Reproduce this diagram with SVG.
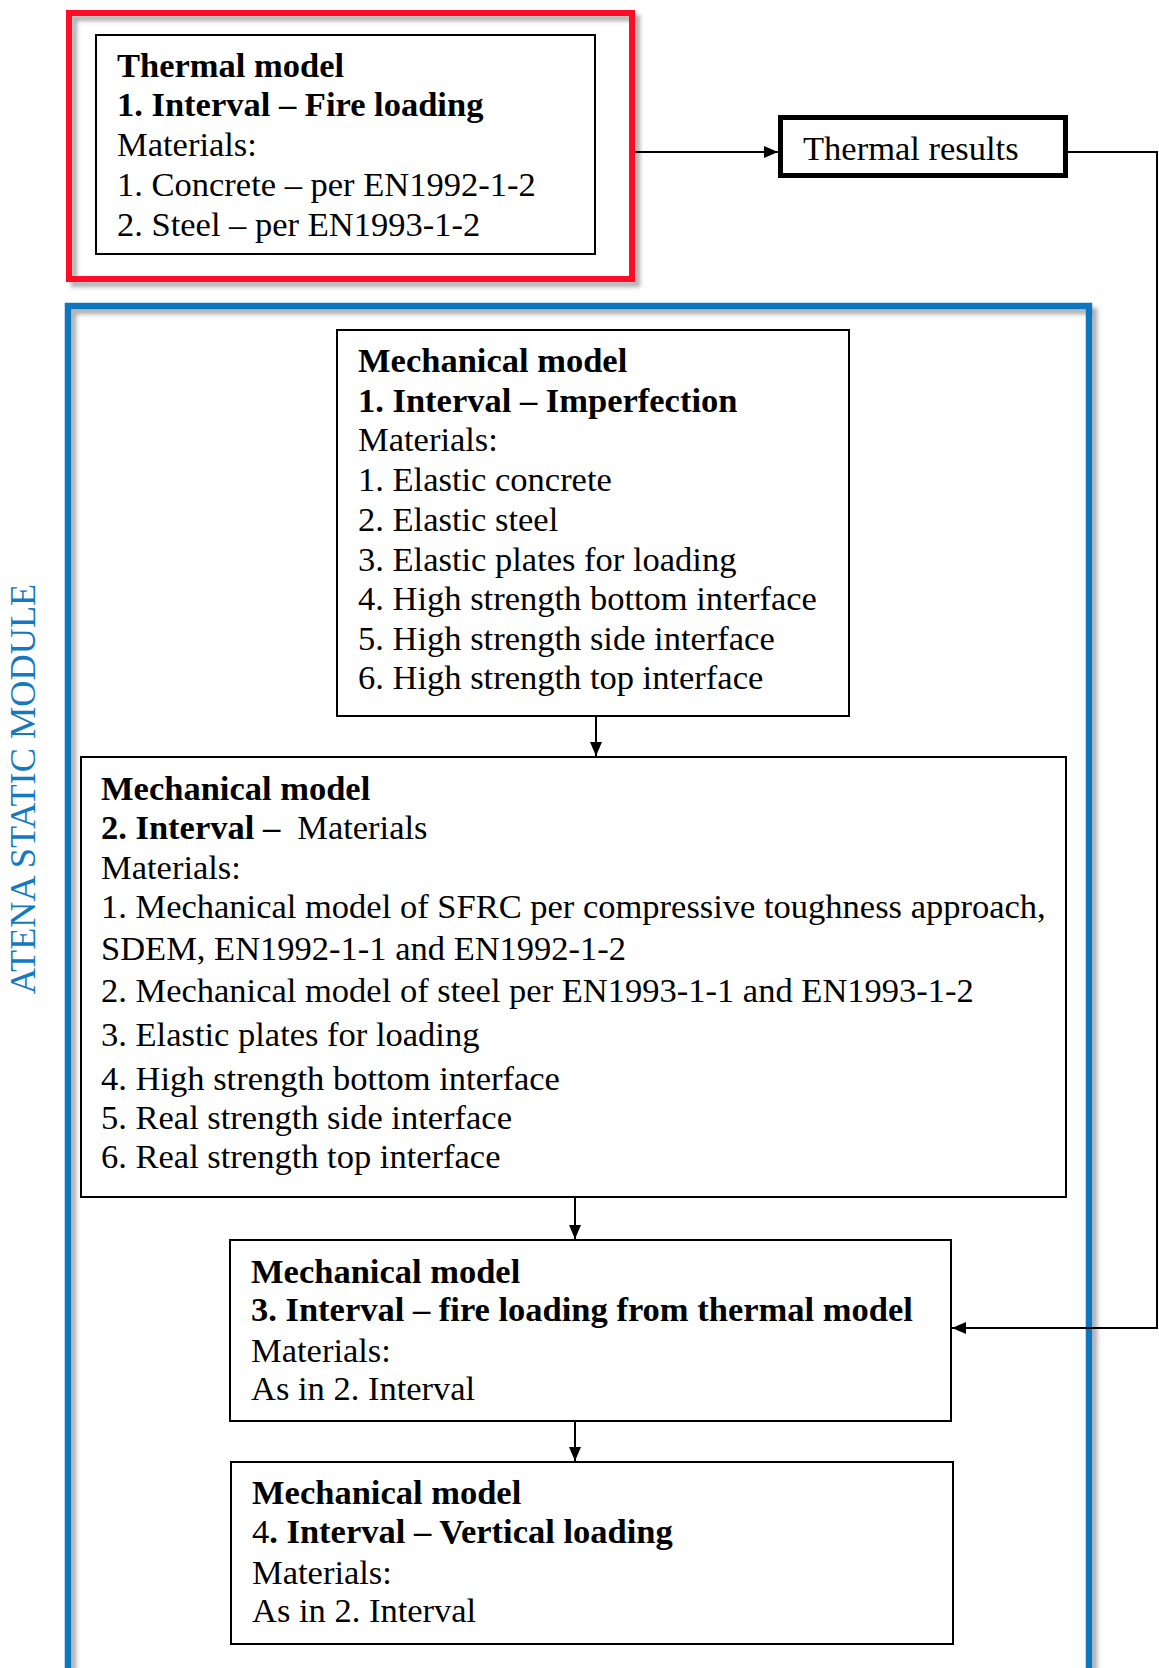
<svg xmlns="http://www.w3.org/2000/svg" width="1159" height="1668" viewBox="0 0 1159 1668">
<style>
text{font-family:"Liberation Serif","Times New Roman",serif;fill:#000}
.t{font-size:34.5px}
.m{font-size:34.5px}
.b{font-weight:bold}
.box{fill:#fff;stroke:#000;stroke-width:2}
.con{fill:none;stroke:#000;stroke-width:2}
.lbl{font-size:36.3px;fill:#1479BE}
</style>
<defs>
<filter id="sh" x="-5%" y="-5%" width="115%" height="115%">
<feDropShadow dx="5" dy="5" stdDeviation="2" flood-color="#777" flood-opacity="0.6"/>
</filter>
<marker id="ah" viewBox="0 0 14 12" refX="14" refY="6" markerWidth="14" markerHeight="12" markerUnits="userSpaceOnUse" orient="auto">
<path d="M0,0 L14,6 L0,12 Z" fill="#000"/>
</marker>
</defs>
<rect width="1159" height="1668" fill="#fff"/>

<g id="thermal-module">
<rect x="69" y="13" width="563" height="266" fill="none" stroke="#FF1028" stroke-width="6" filter="url(#sh)"/>
</g>

<g id="atena-static-module">
<path d="M68,1672 L68,306 L1089,306 L1089,1672" fill="none" stroke="#0A76BC" stroke-width="6.5" filter="url(#sh)"/>
<text class="lbl" transform="translate(35,789) rotate(-90)" text-anchor="middle">ATENA STATIC MODULE</text>
</g>

<g id="connectors">
<line class="con" x1="635" y1="152" x2="778" y2="152" marker-end="url(#ah)"/>
<polyline class="con" points="1068,152 1157,152 1157,1328 952,1328" marker-end="url(#ah)"/>
<line class="con" x1="596" y1="717" x2="596" y2="756" marker-end="url(#ah)"/>
<line class="con" x1="575" y1="1198" x2="575" y2="1239" marker-end="url(#ah)"/>
<line class="con" x1="575" y1="1422" x2="575" y2="1461" marker-end="url(#ah)"/>
</g>

<g id="thermal-model">
<rect class="box" x="96" y="35" width="499" height="219"/>
<text class="t b" x="117" y="77">Thermal model</text>
<text class="t b" x="117" y="116">1. Interval – Fire loading</text>
<text class="t" x="117" y="156">Materials:</text>
<text class="t" x="117" y="195.5">1. Concrete – per EN1992-1-2</text>
<text class="t" x="117" y="235.5">2. Steel – per EN1993-1-2</text>
</g>

<g id="thermal-results">
<rect x="780.5" y="117.5" width="285" height="58" fill="#fff" stroke="#000" stroke-width="5"/>
<text class="t" x="803" y="160">Thermal results</text>
</g>

<g id="mech-1">
<rect class="box" x="337" y="330" width="512" height="386"/>
<text class="m b" x="358" y="372">Mechanical model</text>
<text class="m b" x="358" y="411.5">1. Interval – Imperfection</text>
<text class="m" x="358" y="451">Materials:</text>
<text class="m" x="358" y="491">1. Elastic concrete</text>
<text class="m" x="358" y="531">2. Elastic steel</text>
<text class="m" x="358" y="570.5">3. Elastic plates for loading</text>
<text class="m" x="358" y="610">4. High strength bottom interface</text>
<text class="m" x="358" y="650">5. High strength side interface</text>
<text class="m" x="358" y="689">6. High strength top interface</text>
</g>

<g id="mech-2">
<rect class="box" x="81" y="757" width="985" height="440"/>
<text class="m b" x="101" y="800">Mechanical model</text>
<text class="m" x="101" y="838.5"><tspan class="b">2. Interval –</tspan><tspan dx="17">Materials</tspan></text>
<text class="m" x="101" y="879">Materials:</text>
<text class="m" x="101" y="918">1. Mechanical model of SFRC per compressive toughness approach,</text>
<text class="m" x="101" y="960">SDEM, EN1992-1-1 and EN1992-1-2</text>
<text class="m" x="101" y="1002">2. Mechanical model of steel per EN1993-1-1 and EN1993-1-2</text>
<text class="m" x="101" y="1046">3. Elastic plates for loading</text>
<text class="m" x="101" y="1090">4. High strength bottom interface</text>
<text class="m" x="101" y="1129">5. Real strength side interface</text>
<text class="m" x="101" y="1168">6. Real strength top interface</text>
</g>

<g id="mech-3">
<rect class="box" x="230" y="1240" width="721" height="181"/>
<text class="m b" x="251" y="1283">Mechanical model</text>
<text class="m b" x="251" y="1321">3. Interval – fire loading from thermal model</text>
<text class="m" x="251" y="1361.5">Materials:</text>
<text class="m" x="251" y="1399.5">As in 2. Interval</text>
</g>

<g id="mech-4">
<rect class="box" x="231" y="1462" width="722" height="182"/>
<text class="m b" x="252" y="1504">Mechanical model</text>
<text class="m b" x="252" y="1543"><tspan font-weight="normal">4</tspan>. Interval – Vertical loading</text>
<text class="m" x="252" y="1583.5">Materials:</text>
<text class="m" x="252" y="1622">As in 2. Interval</text>
</g>
</svg>
